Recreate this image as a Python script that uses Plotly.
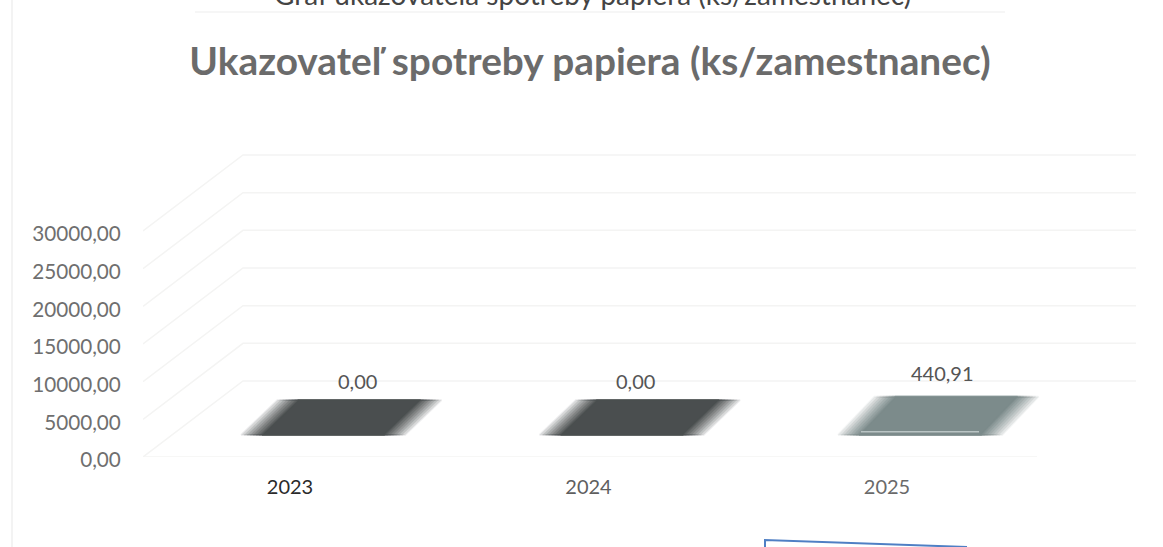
import plotly.graph_objects as go

# --- data ---
years = ["2023", "2024", "2025"]
values = [0.0, 0.0, 440.91]
y_ticks = [0, 5000, 10000, 15000, 20000, 25000, 30000]
title_text = "Ukazovateľ spotreby papiera (ks/zamestnanec)"
caption_text = "Graf ukazovateľa spotreby papiera (ks/zamestnanec)"
year_colors = ["#2b2b2b", "#5f5f5f", "#6a6a6a"]
bar_rgb = ["74,78,79", "74,78,79", "124,139,139"]
label_shift = [-2, -23, -14]
label_raise = [5, 5, 10]

# --- geometry of the fake 3-D projection, in pixels ---
L, R, T, B = 143, 1136, 150, 457
W, H = 1163, 547
PX_PER_CAT = 298.5
CAT0_PX = 292
PX_PER_UNIT = 226 / 30000
DEPTH_DX, DEPTH_DY = 100, 76
FRONT_END_PX = 1037

x_range = [(L - CAT0_PX) / PX_PER_CAT, (R - CAT0_PX) / PX_PER_CAT]
y_range = [0, (B - T) / PX_PER_UNIT]


def cx(px):
    return px / PX_PER_CAT


def cy(px):
    return px / PX_PER_UNIT


fig = go.Figure()

# walls and floor grid, from the tick values
wx, wy = [], []
for t in y_ticks:
    wx += [x_range[0], x_range[0] + cx(DEPTH_DX), x_range[1], None]
    wy += [t, t + cy(DEPTH_DY), t + cy(DEPTH_DY), None]
wx += [x_range[0], (FRONT_END_PX - CAT0_PX) / PX_PER_CAT, None]
wy += [0, 0, None]
fig.add_trace(go.Scatter(x=wx, y=wy, mode="lines", line=dict(color="#f4f4f3", width=1.5),
                         hoverinfo="skip", showlegend=False))

BAR_FRONT_DX, BAR_BACK_DX = 31, 67.5
BAR_FRONT_DY, BAR_BACK_DY = 22, 57


def face(i, half_px, value):
    f = cx(BAR_FRONT_DX)
    b = cx(BAR_BACK_DX)
    h = cx(half_px)
    yf = cy(BAR_FRONT_DY)
    yb = value + cy(BAR_BACK_DY)
    return ([i + f - h, i + f + h, i + b + h, i + b - h, i + f - h],
            [yf, yf, yb, yb, yf])


LAYERS = [(82, 0.14), (79, 0.16), (76, 0.18), (73, 0.2), (70, 0.24), (67, 0.3), (64, 0.4), (61, 1.0)]
for i, v in enumerate(values):
    for half, alpha in LAYERS:
        fx, fy = face(i, half, v)
        col = f"rgba({bar_rgb[i]},{alpha})"
        fig.add_trace(go.Scatter(x=fx, y=fy, mode="lines", fill="toself", fillcolor=col,
                                 line=dict(color=f"rgba({bar_rgb[i]},{alpha * 0.6})", width=2),
                                 hoverinfo="skip", showlegend=False))
    if v > 0:
        f, h = cx(BAR_FRONT_DX), cx(59)
        y0 = cy(BAR_FRONT_DY) + v
        fig.add_trace(go.Scatter(x=[i + f - h, i + f + h], y=[y0, y0], mode="lines",
                                 line=dict(color="#b9c4c4", width=1.5),
                                 hoverinfo="skip", showlegend=False))

annotations = []
for i, v in enumerate(values):
    annotations.append(dict(
        x=i, y=v + cy(BAR_BACK_DY), xref="x", yref="y",
        text=f"{v:.2f}".replace(".", ","), showarrow=False,
        xshift=BAR_BACK_DX + label_shift[i],
        yshift=label_raise[i],
        yanchor="bottom", font=dict(family="Lato", size=20, color="#555555")))

# the caption above the chart is cut by the top of the page, as in the reference
annotations.append(dict(x=(592 - L) / (R - L), y=(B + 6) / (B - T), xref="paper", yref="paper",
                        xanchor="center", yanchor="middle",
                        text=caption_text, showarrow=False,
                        font=dict(family="Lato", size=28, color="#444444")))

fig.update_layout(
    width=W, height=H, autosize=False,
    margin=dict(l=L, r=W - R, t=T, b=H - B, pad=0),
    paper_bgcolor="white", plot_bgcolor="white",
    separators=", ",
    showlegend=False,
    title=dict(text=f"<b>{title_text}</b>", x=590 / W, xanchor="center", y=1 - 61 / H, yanchor="middle",
               font=dict(family="Lato", size=38.8, color="#6b6b6b")),
    xaxis=dict(range=x_range, tickmode="array", tickvals=[0, 1, 2],
               ticktext=[f'<span style="color:{c}">{y}</span>' for y, c in zip(years, year_colors)],
               showgrid=False, zeroline=False, showline=False,
               ticks="outside", ticklen=12, tickcolor="rgba(0,0,0,0)",
               ticklabelshift=-2,
               tickfont=dict(family="Lato", size=20)),
    yaxis=dict(range=y_range, tickmode="array", tickvals=y_ticks, tickformat=".2f",
               showgrid=False, zeroline=False, showline=False,
               ticks="outside", ticklen=17, tickcolor="rgba(0,0,0,0)",
               ticklabelshift=3,
               tickfont=dict(family="Lato", size=20.7, color="#6f6f6f")),
    annotations=annotations,
    shapes=[
        dict(type="line", xref="paper", yref="paper", x0=-131 / (R - L), x1=-131 / (R - L),
             y0=(B - H) / (B - T), y1=B / (B - T), line=dict(color="#f3f3f3", width=2)),
        dict(type="line", xref="paper", yref="paper", x0=(195 - L) / (R - L), x1=(1005 - L) / (R - L),
             y0=(B - 12) / (B - T), y1=(B - 12) / (B - T), line=dict(color="#f6f6f6", width=2)),
        dict(type="path", xref="paper", yref="paper",
             path=(f"M {(765 - L) / (R - L)} {(B - 547) / (B - T)} "
                   f"L {(765 - L) / (R - L)} {(B - 540) / (B - T)} "
                   f"L {(967 - L) / (R - L)} {(B - 547) / (B - T)}"),
             line=dict(color="#4f7fc4", width=2)),
    ],
)

fig.write_html("out.html", config={"displayModeBar": False},
               post_script="document.body.style.margin='0';")
